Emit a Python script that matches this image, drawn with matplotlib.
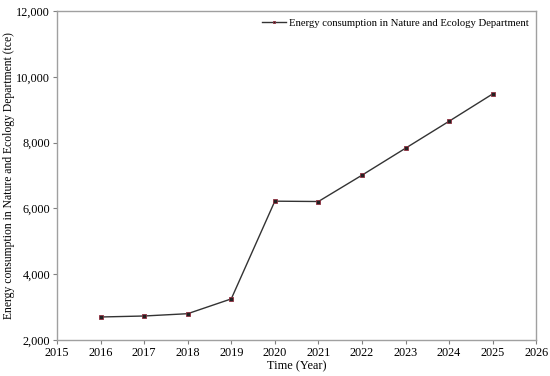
import matplotlib
matplotlib.use("Agg")
import matplotlib.pyplot as plt
from matplotlib.ticker import FuncFormatter

years = [2016, 2017, 2018, 2019, 2020, 2021, 2022, 2023, 2024, 2025]
energy = [2700, 2730, 2800, 3250, 6220, 6210, 7010, 7830, 8650, 9480]
series_label = "Energy consumption in Nature and Ecology Department"

plt.rcParams["font.family"] = ["Liberation Serif", "DejaVu Serif"]

fig = plt.figure(figsize=(5.5, 3.76), dpi=100)
ax = fig.add_axes([0.1036, 0.0957, 0.8714, 0.875])

ax.plot(years, energy, color="#333333", lw=1.0, marker="s", ms=3.5,
        mfc="#222222", mec="#903040", mew=0.6, label=series_label)

ax.set_xlim(2015, 2026)
ax.set_ylim(2000, 12000)
ax.set_xticks(range(2015, 2027))
ax.set_yticks(range(2000, 12001, 2000))
ax.yaxis.set_major_formatter(FuncFormatter(lambda v, p: f"{v:,.0f}"))

for s in ax.spines.values():
    s.set_color("#a0a0a0")
    s.set_linewidth(1.0)
ax.tick_params(direction="out", length=3, color="#808080", labelsize=8.8, pad=2)

ax.set_xlabel("Time (Year)", fontsize=8.8, labelpad=1)
ax.set_ylabel("Energy consumption in Nature and Ecology Department (tce)",
              fontsize=8.4, labelpad=1)

leg = ax.legend(loc="upper right", frameon=False, fontsize=7.7,
                handlelength=2.2, borderaxespad=0.3, handletextpad=0.3)
for h in leg.legend_handles:
    h.set_markersize(2)

fig.savefig("out.png", dpi=100)
